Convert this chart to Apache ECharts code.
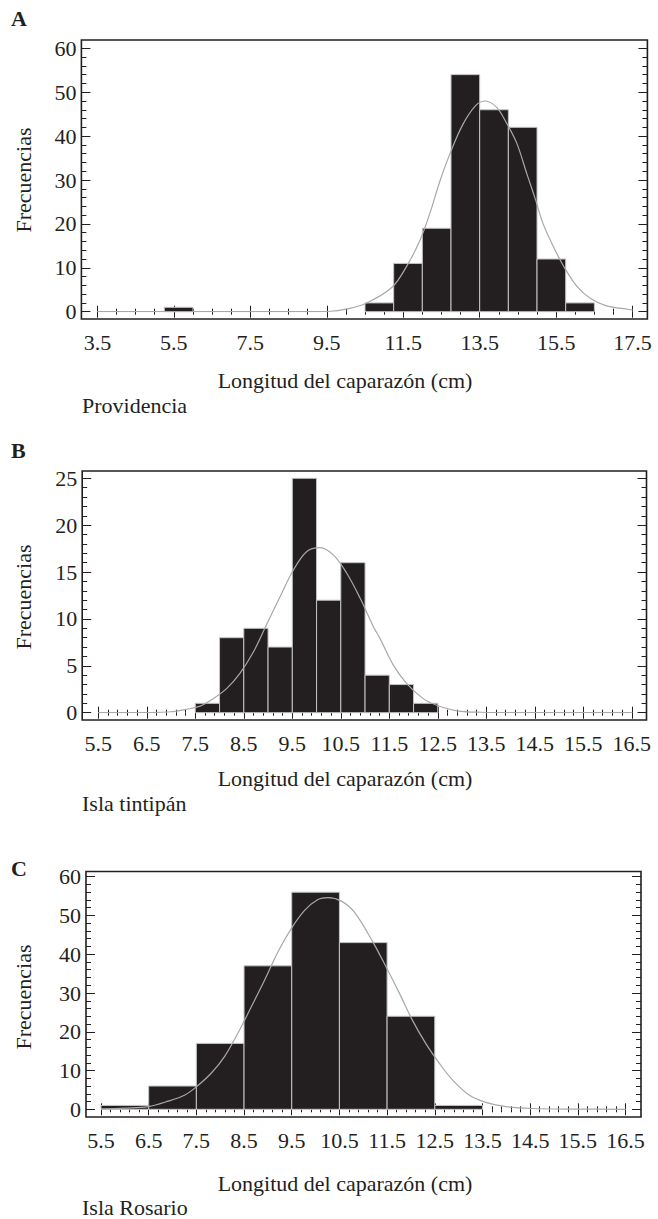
<!DOCTYPE html>
<html>
<head>
<meta charset="utf-8">
<script src="https://cdn.jsdelivr.net/npm/echarts@6/dist/echarts.min.js"></script>
<style>
  html, body { margin: 0; padding: 0; background: #ffffff; }
  #chart { width: 658px; height: 1219px; }
</style>
</head>
<body>
<div id="chart"></div>
<script>
// ---------- A: Providencia ----------
const binStartA = [5.25, 10.5, 11.25, 12, 12.75, 13.5, 14.25, 15, 15.75];
const countsA   = [1, 2, 11, 19, 54, 46, 42, 12, 2];
const binWidthA = 0.75;
const curveXA = [3.5, 9.0, 9.6, 10.0, 10.5, 11.2, 11.6, 11.95, 12.2, 12.45, 12.7, 13.05, 13.4, 13.65, 13.95, 14.2, 14.47, 14.73, 14.95, 15.16, 15.43, 15.7, 16.05, 16.4, 16.8, 17.4, 17.5];
const curveYA = [0, 0, 0.1, 0.6, 1.8, 5.5, 10.5, 16.5, 22.5, 29.5, 35.5, 42.5, 47, 48, 46.5, 43, 38.4, 31.5, 25.8, 20, 14.8, 10.3, 5.7, 3.0, 1.4, 0.5, 0.4];
const xTicksA = [3.5, 5.5, 7.5, 9.5, 11.5, 13.5, 15.5, 17.5];
const yTicksA = [0, 10, 20, 30, 40, 50, 60];

// ---------- B: Isla tintipán ----------
const binStartB = [7.5, 8, 8.5, 9, 9.5, 10, 10.5, 11, 11.5, 12];
const countsB   = [1, 8, 9, 7, 25, 12, 16, 4, 3, 1];
const binWidthB = 0.5;
const curveXB = [5.5, 6.5, 7.0, 7.3, 7.6, 7.87, 8.15, 8.42, 8.7, 8.97, 9.25, 9.52, 9.8, 10.07, 10.35, 10.62, 10.9, 11.17, 11.31, 11.58, 11.86, 12.2, 12.48, 12.9, 13.4, 14.5, 16.5];
const curveYB = [0, 0.02, 0.1, 0.35, 0.7, 1.5, 2.6, 4.2, 6.5, 9.4, 12.4, 15.2, 17.2, 17.6, 16.8, 14.9, 12.2, 9.2, 7.9, 5.1, 3.1, 1.5, 0.8, 0.2, 0.05, 0, 0];
const xTicksB = [5.5, 6.5, 7.5, 8.5, 9.5, 10.5, 11.5, 12.5, 13.5, 14.5, 15.5, 16.5];
const yTicksB = [0, 5, 10, 15, 20, 25];

// ---------- C: Isla Rosario ----------
const binStartC = [5.5, 6.5, 7.5, 8.5, 9.5, 10.5, 11.5, 12.5];
const countsC   = [1, 6, 17, 37, 56, 43, 24, 1];
const binWidthC = 1;
const curveXC = [5.5, 6.0, 6.49, 6.91, 7.26, 7.5, 7.81, 8.09, 8.37, 8.65, 8.93, 9.21, 9.49, 9.77, 10.05, 10.26, 10.54, 10.81, 11.2, 11.48, 11.76, 12.03, 12.31, 12.6, 12.87, 13.22, 13.57, 13.99, 14.54, 15.45, 16.5];
const curveYC = [0.1, 0.3, 0.7, 2.1, 3.7, 5.8, 9.3, 13.6, 19.6, 26.4, 33.3, 40.6, 46.6, 51.3, 54.1, 54.6, 53.7, 50.9, 43.2, 36.7, 29.9, 23.0, 17.0, 11.8, 7.6, 3.7, 1.8, 0.7, 0.2, 0.05, 0];
const xTicksC = [5.5, 6.5, 7.5, 8.5, 9.5, 10.5, 11.5, 12.5, 13.5, 14.5, 15.5, 16.5];
const yTicksC = [0, 10, 20, 30, 40, 50, 60];

// ---------- texts ----------
const panelLetters = ['A', 'B', 'C'];
const siteNames = ['Providencia', 'Isla tintipán', 'Isla Rosario'];
const yTitle = 'Frecuencias';
const xTitle = 'Longitud del caparazón (cm)';

// ---------- layout (pixels) ----------
const FONT = '"Liberation Serif", "Times New Roman", serif';
const FS = 22;
const INK = '#231f20';
const layouts = [
  { frame: [81.4, 40, 647.4, 319],    plot: [97.4, 48.3, 632.6, 311.7],  xMinor: 4, yMinor: 5,
    letterY: 18,  nameY: 180, titleY: 380,  siteY: 405 },
  { frame: [82.2, 471, 646.5, 720],   plot: [98.3, 478.3, 631.8, 712.7], xMinor: 5, yMinor: 5,
    letterY: 450, nameY: 597, titleY: 778,  siteY: 803 },
  { frame: [86, 871.5, 641, 1117],    plot: [101, 876.7, 625.5, 1109.3], xMinor: 5, yMinor: 5,
    letterY: 868, nameY: 997, titleY: 1183, siteY: 1207 }
];

const panels = [
  { bins: binStartA, counts: countsA, width: binWidthA, cx: curveXA, cy: curveYA, xt: xTicksA, yt: yTicksA },
  { bins: binStartB, counts: countsB, width: binWidthB, cx: curveXB, cy: curveYB, xt: xTicksB, yt: yTicksB },
  { bins: binStartC, counts: countsC, width: binWidthC, cx: curveXC, cy: curveYC, xt: xTicksC, yt: yTicksC }
];

const grids = [], xAxes = [], yAxes = [], series = [], graphics = [];

const labelStyle = { fontFamily: FONT, fontSize: FS, color: INK };

panels.forEach((p, i) => {
  const L = layouts[i];
  const [fx0, fy0, fx1, fy1] = L.frame;
  const [px0, py0, px1, py1] = L.plot;
  grids.push({ left: px0, top: py0, width: px1 - px0, height: py1 - py0, containLabel: false });

  const xMin = p.xt[0], xMax = p.xt[p.xt.length - 1], xInt = p.xt[1] - p.xt[0];
  const yMin = p.yt[0], yMax = p.yt[p.yt.length - 1], yInt = p.yt[1] - p.yt[0];

  const xBase = {
    type: 'value', gridIndex: i, min: xMin, max: xMax, interval: xInt,
    axisLine: { show: false }, splitLine: { show: false },
    axisTick: { show: true, inside: true, length: 6, lineStyle: { color: INK, width: 1 } },
    minorTick: { show: true, splitNumber: L.xMinor, length: 3, lineStyle: { color: INK, width: 1 } }
  };
  xAxes.push(Object.assign({}, xBase, {
    position: 'bottom', offset: fy1 - py1,
    axisLabel: Object.assign({ show: true, margin: 12, formatter: v => v.toFixed(1) }, labelStyle)
  }));
  xAxes.push(Object.assign({}, xBase, {
    position: 'top', offset: py0 - fy0, axisLabel: { show: false }
  }));

  const yBase = {
    type: 'value', gridIndex: i, min: yMin, max: yMax, interval: yInt,
    axisLine: { show: false }, splitLine: { show: false },
    axisTick: { show: true, inside: true, length: 9, lineStyle: { color: INK, width: 1 } },
    minorTick: { show: true, splitNumber: L.yMinor, length: 5, lineStyle: { color: INK, width: 1 } }
  };
  yAxes.push(Object.assign({}, yBase, {
    position: 'left', offset: px0 - fx0,
    axisLabel: Object.assign({ show: true, margin: 5 }, labelStyle)
  }));
  yAxes.push(Object.assign({}, yBase, {
    position: 'right', offset: fx1 - px1, axisLabel: { show: false }
  }));

  // histogram bars: [start, end, count]
  const barData = p.bins.map((s, k) => [s, s + p.width, p.counts[k]]);
  series.push({
    type: 'custom', xAxisIndex: 2 * i, yAxisIndex: 2 * i, z: 2,
    data: barData, encode: { x: [0, 1], y: 2 },
    renderItem: (params, api) => {
      const a = api.coord([api.value(0), 0]);
      const b = api.coord([api.value(1), api.value(2)]);
      return {
        type: 'rect',
        shape: { x: a[0], y: b[1], width: b[0] - a[0], height: a[1] - b[1] },
        style: { fill: INK, stroke: '#c4c4c4', lineWidth: 1 }
      };
    }
  });

  // fitted normal curve
  series.push({
    type: 'line', xAxisIndex: 2 * i, yAxisIndex: 2 * i, z: 3,
    data: p.cx.map((x, k) => [x, p.cy[k]]),
    showSymbol: false, symbol: 'none', smooth: 0.35,
    lineStyle: { color: '#a8a8a8', width: 1.2 }, silent: true
  });

  // frame
  graphics.push({
    type: 'rect', z: 10, silent: true,
    shape: { x: fx0, y: fy0, width: fx1 - fx0, height: fy1 - fy0 },
    style: { fill: null, stroke: INK, lineWidth: 1.6 }
  });
  // panel letter
  graphics.push({
    type: 'text', x: 11, y: L.letterY, silent: true,
    style: { text: panelLetters[i], fontFamily: FONT, fontSize: FS, fontWeight: 'bold', fill: INK,
             align: 'left', verticalAlign: 'middle' }
  });
  // y title
  graphics.push({
    type: 'text', x: 23, y: L.nameY, rotation: Math.PI / 2, silent: true,
    style: { text: yTitle, fontFamily: FONT, fontSize: FS, fill: INK, align: 'center', verticalAlign: 'middle' }
  });
  // x title
  graphics.push({
    type: 'text', x: 345, y: L.titleY, silent: true,
    style: { text: xTitle, fontFamily: FONT, fontSize: FS, fill: INK, align: 'center', verticalAlign: 'middle' }
  });
  // site name
  graphics.push({
    type: 'text', x: 82, y: L.siteY, silent: true,
    style: { text: siteNames[i], fontFamily: FONT, fontSize: FS, fill: INK, align: 'left', verticalAlign: 'middle' }
  });
});

const chart = echarts.init(document.getElementById('chart'), null, { renderer: 'svg' });
chart.setOption({
  animation: false,
  backgroundColor: '#ffffff',
  grid: grids,
  xAxis: xAxes,
  yAxis: yAxes,
  series: series,
  graphic: graphics
});
</script>
</body>
</html>
